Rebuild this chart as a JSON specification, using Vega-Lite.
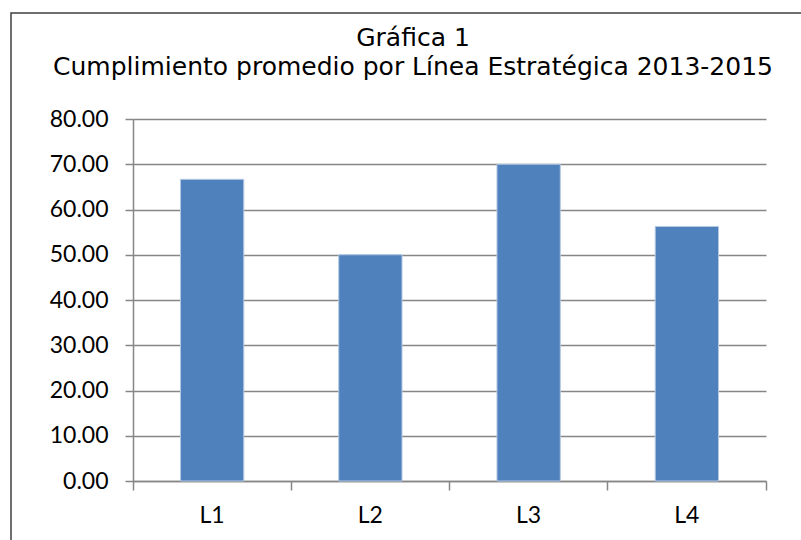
{
  "$schema": "https://vega.github.io/schema/vega-lite/v6.json",
  "autosize": "none",
  "padding": {"left": 11, "top": 13, "right": 0, "bottom": 0},
  "width": 800,
  "height": 540,
  "background": "white",
  "title": {
    "text": ["Gráfica 1", "Cumplimiento promedio por Línea Estratégica 2013-2015"],
    "anchor": "middle",
    "frame": "group",
    "baseline": "alphabetic",
    "offset": -52,
    "dy": 35,
    "dx": 2,
    "lineHeight": 29,
    "font": "'DejaVu Sans', sans-serif",
    "fontSize": 25,
    "fontWeight": "normal",
    "color": "black"
  },
  "data": {
    "values": [
      {"linea": "L1", "valor": 66.67},
      {"linea": "L2", "valor": 50.0},
      {"linea": "L3", "valor": 70.0},
      {"linea": "L4", "valor": 56.25}
    ]
  },
  "mark": {"type": "bar", "width": {"band": 0.4}, "color": "#4F81BD", "stroke": "#b4c8e4", "strokeWidth": 1},
  "encoding": {
    "x": {
      "field": "linea",
      "type": "nominal",
      "sort": null,
      "scale": {"range": [122, 755], "paddingInner": 0, "paddingOuter": 0},
      "axis": {
        "title": null,
        "labelAngle": 0,
        "offset": -72,
        "bandPosition": 1,
        "tickExtra": true,
        "tickSize": 9,
        "tickColor": "#868686",
        "tickWidth": 1.5,
        "domainColor": "#868686",
        "domainWidth": 1.5,
        "grid": false,
        "labelFont": "Lato",
        "labelFontSize": 23,
        "labelColor": "black",
        "labelPadding": 14
      }
    },
    "y": {
      "field": "valor",
      "type": "quantitative",
      "scale": {"domain": [0, 80], "range": [468, 106], "nice": false, "zero": true},
      "axis": {
        "title": null,
        "values": [0, 10, 20, 30, 40, 50, 60, 70, 80],
        "format": ".2f",
        "offset": -122,
        "labelFont": "Lato",
        "labelFontSize": 23,
        "labelColor": "black",
        "labelPadding": 17,
        "tickSize": 8,
        "tickColor": "#868686",
        "tickWidth": 1.5,
        "domainColor": "#868686",
        "domainWidth": 1.5,
        "grid": true,
        "gridColor": "#868686",
        "gridWidth": 1.5
      }
    }
  },
  "config": {"view": {"stroke": "#404040", "strokeWidth": 1.5}}
}
